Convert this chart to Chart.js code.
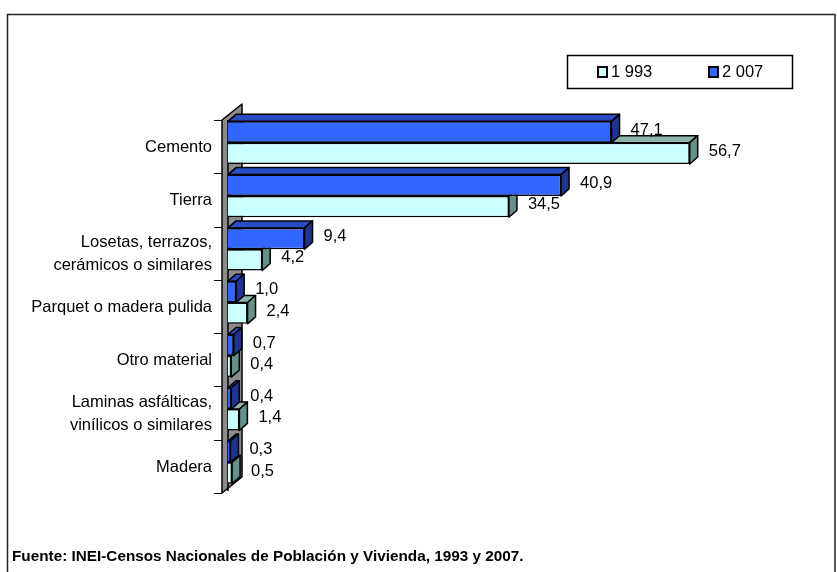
<!DOCTYPE html>
<html>
<head>
<meta charset="utf-8">
<script src="https://cdn.jsdelivr.net/npm/chart.js@4.4.1/dist/chart.umd.min.js"></script>
<style>
  html, body { margin: 0; padding: 0; background: #fff; }
</style>
</head>
<body>
<canvas id="pisos" width="837" height="572"></canvas>
<script>
const categorias = [
    "Cemento",
    "Tierra",
    ["Losetas, terrazos,", "cerámicos o similares"],
    "Parquet o madera pulida",
    "Otro material",
    ["Laminas asfálticas,", "vinílicos o similares"],
    "Madera"
];
const v1993 = [56.7, 34.5, 4.2, 2.4, 0.4, 1.4, 0.5];
const v2007 = [47.1, 40.9, 9.4, 1.0, 0.7, 0.4, 0.3];
const series = ["1 993", "2 007"];
const fuente = "Fuente: INEI-Censos Nacionales de Población y Vivienda, 1993 y 2007.";

const FONT = '"Liberation Sans", Arial, sans-serif';
const DX = 8, DY = -7;      // profundidad de las barras
const WX = 20, WY = -16;    // profundidad de la pared

function coma(v) {
    return v.toFixed(1).replace('.', ',');
}

function poly(ctx, pts, fill) {
    ctx.beginPath();
    ctx.moveTo(pts[0][0], pts[0][1]);
    for (let k = 1; k < pts.length; k++) ctx.lineTo(pts[k][0], pts[k][1]);
    ctx.closePath();
    ctx.fillStyle = fill;
    ctx.fill();
    ctx.stroke();
}

const tresD = {
    id: 'tresD',
    beforeDatasetsDraw(chart) {
        const ctx = chart.ctx, a = chart.chartArea, ys = chart.scales.y;
        ctx.save();
        ctx.strokeStyle = '#000';
        ctx.lineWidth = 1.5;
        ctx.lineJoin = 'round';

        // pared gris
        const wl = a.left - 6, wt = a.top + 4, wb = a.bottom + 4;
        poly(ctx, [[wl, wb], [wl, wt], [wl + WX, wt + WY], [wl + WX, wb + WY]], '#8c8c8c');
        ctx.beginPath();
        ctx.moveTo(a.left, wt); ctx.lineTo(a.left, wb - 2);
        ctx.stroke();

        // marcas del eje
        ctx.lineWidth = 1;
        for (let i = 0; i <= categorias.length; i++) {
            const py = Math.round(ys.getPixelForValue(i - 0.5) + 4) + 0.5;
            ctx.beginPath();
            ctx.moveTo(a.left - 14, py); ctx.lineTo(wl, py);
            ctx.stroke();
        }

        // caras superior y lateral
        ctx.lineWidth = 1.5;
        for (let i = 0; i < categorias.length; i++) {
            for (const d of [1, 0]) {
                const ds = chart.data.datasets[d];
                const bar = chart.getDatasetMeta(d).data[i];
                const p = bar.getProps(['x', 'y', 'base', 'height'], true);
                const t = p.y - p.height / 2, b = p.y + p.height / 2;
                poly(ctx, [[p.base, t], [p.base + DX, t + DY], [p.x + DX, t + DY], [p.x, t]], ds.topColor);
                poly(ctx, [[p.x, t], [p.x + DX, t + DY], [p.x + DX, b + DY], [p.x, b]], ds.sideColor);
            }
        }
        ctx.restore();
    },
    afterDatasetsDraw(chart) {
        const ctx = chart.ctx;
        ctx.save();
        ctx.fillStyle = '#000';
        ctx.font = '16.5px ' + FONT;
        ctx.textAlign = 'left';
        ctx.textBaseline = 'middle';
        chart.data.datasets.forEach((ds, d) => {
            chart.getDatasetMeta(d).data.forEach((bar, i) => {
                ctx.fillText(coma(ds.data[i]), bar.x + DX + 11, bar.y - 2);
            });
        });
        ctx.restore();
    },
    afterDraw(chart) {
        const ctx = chart.ctx;
        ctx.save();
        // leyenda
        ctx.strokeStyle = '#000';
        ctx.lineWidth = 1.5;
        ctx.strokeRect(567.5, 55.5, 225, 33);
        ctx.font = '16.5px ' + FONT;
        ctx.textBaseline = 'middle';
        ctx.textAlign = 'left';
        const orden = [1, 0];
        const lx = [598, 709];
        orden.forEach((d, k) => {
            const ds = chart.data.datasets[d];
            ctx.fillStyle = ds.backgroundColor;
            ctx.lineWidth = 2;
            ctx.fillRect(lx[k], 67, 9, 10);
            ctx.strokeRect(lx[k], 67, 9, 10);
            ctx.fillStyle = '#000';
            ctx.fillText(ds.label, lx[k] + 13, 72);
        });
        // fuente
        ctx.font = 'bold 15.3px ' + FONT;
        ctx.fillText(fuente, 12, 557);
        // borde exterior
        ctx.strokeStyle = '#222';
        ctx.lineWidth = 1.5;
        ctx.strokeRect(7.5, 14.5, 827.5, 600);
        ctx.restore();
    }
};

const pisos = new Chart('pisos', {
    type: 'bar',
    data: {
        labels: categorias,
        datasets: [{
            label: series[1],
            data: v2007,
            backgroundColor: '#3366FF',
            topColor: '#2a4cc4',
            sideColor: '#1e3490',
            borderColor: '#000',
            borderWidth: 1.5,
            categoryPercentage: 0.8,
            barPercentage: 1.0
        }, {
            label: series[0],
            data: v1993,
            backgroundColor: '#CCFFFF',
            topColor: '#8fb3ae',
            sideColor: '#66908b',
            borderColor: '#000',
            borderWidth: 1.5,
            categoryPercentage: 0.8,
            barPercentage: 1.0
        }]
    },
    options: {
        indexAxis: 'y',
        responsive: false,
        animation: false,
        layout: {
            padding: { top: 116, bottom: 83, right: 39, left: 0 }
        },
        plugins: {
            legend: { display: false },
            tooltip: { enabled: false }
        },
        scales: {
            x: {
                display: false,
                min: 0,
                max: 70
            },
            y: {
                grid: { display: false, drawTicks: false },
                border: { display: false },
                ticks: {
                    color: '#000',
                    padding: 16,
                    labelOffset: 5,
                    font: { family: FONT, size: 16.5, lineHeight: 1.4 }
                },
                afterFit(scale) {
                    scale.width = 228;
                }
            }
        }
    },
    plugins: [tresD]
});
</script>
</body>
</html>
